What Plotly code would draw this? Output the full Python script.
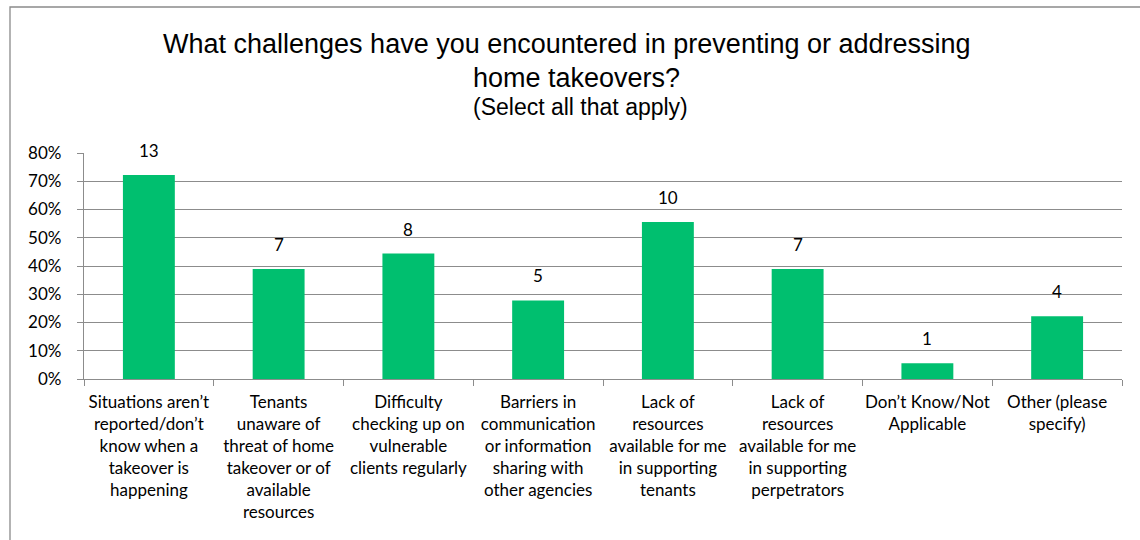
import plotly.graph_objects as go

# ---- data ----
categories = [
    "Situations aren’t<br>reported/don’t<br>know when a<br>takeover is<br>happening",
    "Tenants<br>unaware of<br>threat of home<br>takeover or of<br>available<br>resources",
    "Difficulty<br>checking up on<br>vulnerable<br>clients regularly",
    "Barriers in<br>communication<br>or information<br>sharing with<br>other agencies",
    "Lack of<br>resources<br>available for me<br>in supporting<br>tenants",
    "Lack of<br>resources<br>available for me<br>in supporting<br>perpetrators",
    "Don’t Know/Not<br>Applicable",
    "Other (please<br>specify)",
]
percent_values = [72.2, 38.9, 44.4, 27.8, 55.6, 38.9, 5.6, 22.2]
counts = [13, 7, 8, 5, 10, 7, 1, 4]
y_tick_values = [0, 10, 20, 30, 40, 50, 60, 70, 80]
y_tick_labels = ["0%", "10%", "20%", "30%", "40%", "50%", "60%", "70%", "80%"]

title_line1 = "What challenges have you encountered in preventing or addressing"
title_line2 = "home takeovers?"
title_line3 = "(Select all that apply)"

# ---- layout geometry (pixels) ----
W, H = 1140, 540
L, R, T, B = 84, 1122, 153, 379
PW, PH = R - L, B - T


def px(x):
    return (x - L) / PW


def py(y):
    return (B - y) / PH


GREEN = "#00BF6F"
GRID = "#8C8C8C"
TXT = "#000000"
LABEL_FONT = "Lato, Carlito, Calibri, sans-serif"
TITLE_FONT = "Arial, Liberation Sans, sans-serif"

fig = go.Figure()
fig.add_trace(go.Bar(
    x=categories,
    y=percent_values,
    marker=dict(color=GREEN, line=dict(width=0)),
    width=0.4,
    hoverinfo="skip",
))

annotations = []
for c, v, n in zip(categories, percent_values, counts):
    annotations.append(dict(
        x=c, y=v, xref="x", yref="y", text=str(n), showarrow=False,
        yanchor="bottom", yshift=12,
        font=dict(family=LABEL_FONT, size=17, color=TXT),
    ))

annotations += [
    dict(x=px(567), y=py(44), xref="paper", yref="paper", text=title_line1,
         showarrow=False, xanchor="center", yanchor="middle",
         font=dict(family=TITLE_FONT, size=27, color=TXT)),
    dict(x=px(576), y=py(78), xref="paper", yref="paper", text=title_line2,
         showarrow=False, xanchor="center", yanchor="middle",
         font=dict(family=TITLE_FONT, size=27, color=TXT)),
    dict(x=px(580), y=py(107), xref="paper", yref="paper", text=title_line3,
         showarrow=False, xanchor="center", yanchor="middle",
         font=dict(family=TITLE_FONT, size=23, color=TXT)),
]

shapes = [
    dict(type="rect", xref="paper", yref="paper",
         x0=px(10), x1=px(1150), y0=py(550), y1=py(7),
         line=dict(color="#8A8A8A", width=1.3), fillcolor="rgba(0,0,0,0)",
         layer="below"),
]

fig.update_layout(
    width=W, height=H,
    margin=dict(l=L, r=W - R, t=T, b=H - B, pad=0),
    paper_bgcolor="white", plot_bgcolor="white",
    showlegend=False,
    annotations=annotations,
    shapes=shapes,
    xaxis=dict(
        type="category",
        showgrid=False,
        showline=True, linecolor=GRID, linewidth=1.3,
        ticks="outside", tickson="boundaries", ticklen=6, tickcolor=GRID, tickwidth=1.3,
        tickfont=dict(family=LABEL_FONT, size=17, color=TXT),
        tickangle=0,
        ticklabelstandoff=7,
        fixedrange=True,
    ),
    yaxis=dict(
        range=[0, 80],
        tickmode="array", tickvals=y_tick_values, ticktext=y_tick_labels,
        showgrid=True, gridcolor=GRID, gridwidth=1.3,
        showline=True, linecolor=GRID, linewidth=1.3,
        ticks="outside", ticklen=6, tickcolor=GRID, tickwidth=1.3,
        tickfont=dict(family=LABEL_FONT, size=17, color=TXT),
        ticklabelstandoff=12,
        zeroline=False,
        fixedrange=True,
    ),
)

fig.update_traces(cliponaxis=False)

fig.write_html("out.html")
